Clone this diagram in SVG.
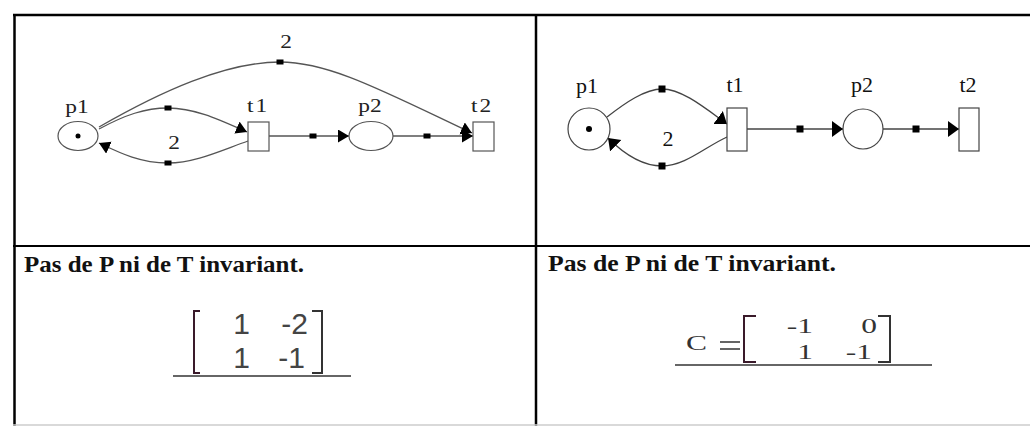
<svg xmlns="http://www.w3.org/2000/svg" width="1030" height="426" viewBox="0 0 1030 426">
<defs>
<style>
.tbl{stroke:#000;stroke-width:2.5;fill:none}
.lc{stroke:#555;stroke-width:1.3;fill:none}
.rc{stroke:#444;stroke-width:1.3;fill:none}
.ln{fill:#fff;stroke:#555;stroke-width:1.2}
.rn{fill:#fff;stroke:#444;stroke-width:1.2}
.lt{font-family:"Liberation Serif",serif;font-size:18px;fill:#222;text-anchor:middle}
.rt{font-family:"Liberation Serif",serif;font-size:22px;fill:#111;text-anchor:middle}
.hd{font-family:"Liberation Serif",serif;font-size:24px;font-weight:bold;fill:#111}
.ms{font-family:"Liberation Sans",sans-serif;font-size:30px;fill:#444;text-anchor:end}
.mr{font-family:"Liberation Serif",serif;font-size:21px;fill:#333;text-anchor:end}
.sq{fill:#000}
</style>
<marker id="aL" markerUnits="userSpaceOnUse" markerWidth="13" markerHeight="15" refX="11" refY="6.5" orient="auto"><path d="M0,0 L11,6.5 L0,13 z" fill="#000"/></marker>
<marker id="aR" markerUnits="userSpaceOnUse" markerWidth="13" markerHeight="18" refX="11" refY="8" orient="auto"><path d="M0,0 L11,8 L0,16 z" fill="#000"/></marker>
</defs>
<rect width="1030" height="426" fill="#fff"/>
<g id="table">
<path class="tbl" d="M13 15 H1030 M14.5 14 V426 M536 15 V426"/>
<path d="M13 246 H1030" stroke="#000" stroke-width="2" fill="none"/>
<path d="M13 425 H1030" stroke="#ccc" stroke-width="1.5" fill="none"/>
</g>
<g id="connectors-left">
<path class="lc" d="M99 127 C160 92, 225 62, 280 62 C330 62, 385 92, 472 133" marker-end="url(#aL)"/>
<path class="lc" d="M99 129 C125 115, 145 108, 168 108 C195 108, 220 120, 247 132" marker-end="url(#aL)"/>
<path class="lc" d="M248 141 C222 150, 195 163, 168 163 C140 163, 120 153, 99 143" marker-end="url(#aL)"/>
<path class="lc" d="M269 136 H349" marker-end="url(#aL)"/>
<path class="lc" d="M393 136 H473" marker-end="url(#aL)"/>
<rect class="sq" x="276.5" y="59.5" width="7" height="5"/>
<rect class="sq" x="164.5" y="105.5" width="7" height="5"/>
<rect class="sq" x="164.5" y="160.5" width="7" height="5"/>
<rect class="sq" x="309.5" y="133.5" width="7" height="5"/>
<rect class="sq" x="423.5" y="133.5" width="7" height="5"/>
<text class="lt" transform="translate(286,48) scale(1.3,1)">2</text>
<text class="lt" transform="translate(174,149) scale(1.3,1)">2</text>
</g>
<g id="L-p1">
<ellipse class="ln" cx="78" cy="136" rx="20" ry="14.5"/>
<circle cx="78" cy="136" r="2.5" fill="#000"/>
<text class="lt" transform="translate(77,113) scale(1.3,1)">p1</text>
</g>
<g id="L-t1">
<rect class="ln" x="248" y="122" width="21" height="29"/>
<text class="lt" transform="translate(258,112) scale(1.3,1)" letter-spacing="1.5">t1</text>
</g>
<g id="L-p2">
<ellipse class="ln" cx="371" cy="136" rx="22" ry="14.5"/>
<text class="lt" transform="translate(370,112) scale(1.3,1)">p2</text>
</g>
<g id="L-t2">
<rect class="ln" x="473" y="122" width="21" height="29"/>
<text class="lt" transform="translate(482,112) scale(1.3,1)" letter-spacing="1.5">t2</text>
</g>
<g id="connectors-right">
<path class="rc" d="M607 117 C625 103, 645 89, 662 89 C682 89, 705 108, 727 124" marker-end="url(#aR)"/>
<path class="rc" d="M727 137 C705 147, 685 166, 662 166 C640 166, 622 152, 608 138" marker-end="url(#aR)"/>
<path class="rc" d="M747 129 H843" marker-end="url(#aR)"/>
<path class="rc" d="M883 129 H959" marker-end="url(#aR)"/>
<rect class="sq" x="658.5" y="85.5" width="7" height="7"/>
<rect class="sq" x="658.5" y="162.5" width="7" height="7"/>
<rect class="sq" x="796.5" y="125.5" width="7" height="7"/>
<rect class="sq" x="912.5" y="125.5" width="7" height="7"/>
<text class="rt" x="668" y="146" font-size="24">2</text>
</g>
<g id="R-p1">
<circle class="rn" cx="589" cy="129" r="21"/>
<circle cx="589" cy="129" r="3" fill="#000"/>
<text class="rt" x="587" y="93">p1</text>
</g>
<g id="R-t1">
<rect class="rn" x="727" y="108" width="20" height="43"/>
<text class="rt" x="735" y="92">t1</text>
</g>
<g id="R-p2">
<circle class="rn" cx="863" cy="129" r="20"/>
<text class="rt" x="862" y="92">p2</text>
</g>
<g id="R-t2">
<rect class="rn" x="959" y="108" width="20" height="43"/>
<text class="rt" x="968" y="92">t2</text>
</g>
<g id="left-bottom">
<text class="hd" x="24" y="272" textLength="280" lengthAdjust="spacingAndGlyphs">Pas de P ni de T invariant.</text>
<path d="M200 311 H194 V373 H200" stroke="#3a1a2a" stroke-width="2" fill="none"/>
<path d="M312 311 H322 V373 H312" stroke="#333" stroke-width="2" fill="none"/>
<text class="ms" x="250" y="334">1</text>
<text class="ms" x="308" y="334">-2</text>
<text class="ms" x="250" y="368">1</text>
<text class="ms" x="305" y="368">-1</text>
<path d="M173 376 H351" stroke="#333" stroke-width="1.5"/>
</g>
<g id="right-bottom">
<text class="hd" x="548" y="271" textLength="288" lengthAdjust="spacingAndGlyphs">Pas de P ni de T invariant.</text>
<text class="mr" transform="translate(707,350) scale(1.5,1)">C</text>
<path d="M720 342 H740 M720 349 H740" stroke="#333" stroke-width="1.5"/>
<path d="M756 316 H744 V362 H756" stroke="#3a1a2a" stroke-width="2" fill="none"/>
<path d="M878 316 H890 V362 H878" stroke="#333" stroke-width="2" fill="none"/>
<text class="mr" transform="translate(813,333) scale(1.5,1)">-1</text>
<text class="mr" transform="translate(877,333) scale(1.5,1)">0</text>
<text class="mr" transform="translate(813,359) scale(1.5,1)">1</text>
<text class="mr" transform="translate(872,359) scale(1.5,1)">-1</text>
<path d="M675 365 H932" stroke="#333" stroke-width="1.5"/>
</g>
</svg>
